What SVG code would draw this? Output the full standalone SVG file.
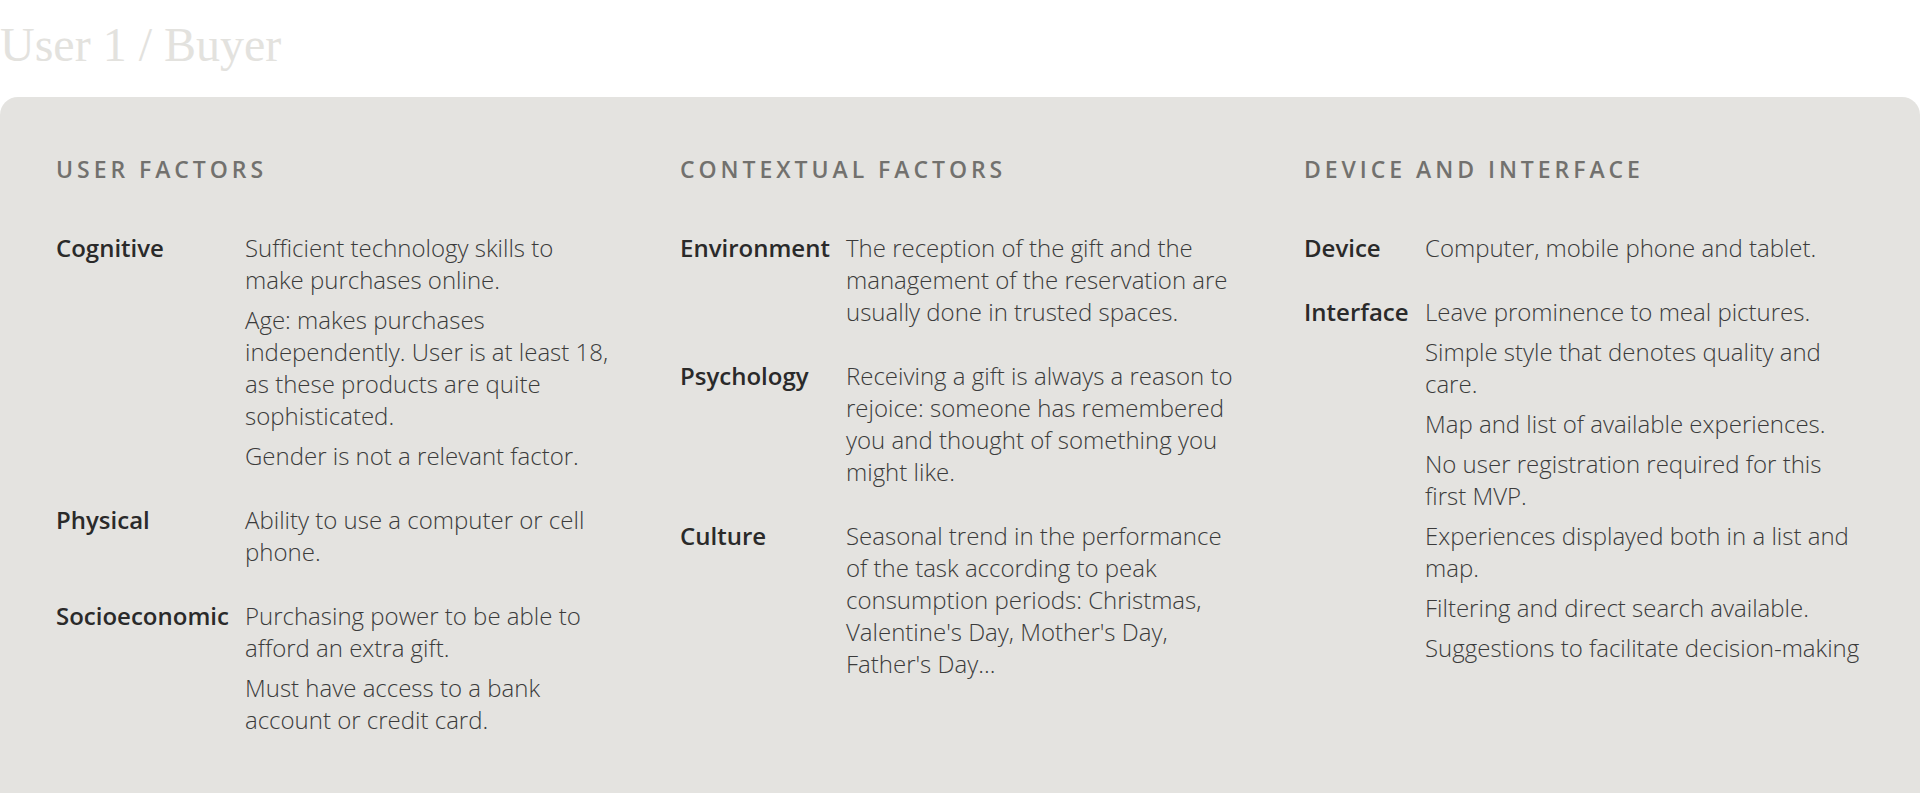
<svg xmlns="http://www.w3.org/2000/svg" width="1920" height="793" viewBox="0 0 1920 793">
<style>
.title{font-family:"Liberation Serif",serif;font-size:48px;fill:#e3e2de}
.hdr{font-family:"Open Sans","Liberation Sans",sans-serif;font-size:23px;font-weight:600;letter-spacing:3.95px;fill:#72716e}
.lbl{font-family:"Open Sans","Liberation Sans",sans-serif;font-size:24px;font-weight:600;fill:#2a2a2a}
.txt{font-family:"Open Sans","Liberation Sans",sans-serif;font-size:24px;font-weight:300;fill:#3b3b3b}
</style>
<rect width="1920" height="793" fill="#ffffff"/>
<text class="title" x="0" y="61">User 1 / Buyer</text>
<rect id="card" x="0" y="97" width="1920" height="720" rx="18" fill="#e4e3e0"/>

<g id="user-factors">
<text class="hdr" x="56" y="178">USER FACTORS</text>
<g id="cognitive">
<text class="lbl" x="56" y="257">Cognitive</text>
<text class="txt" x="245" y="257">Sufficient technology skills to</text>
<text class="txt" x="245" y="289">make purchases online.</text>
<text class="txt" x="245" y="329">Age: makes purchases</text>
<text class="txt" x="245" y="361">independently. User is at least 18,</text>
<text class="txt" x="245" y="393">as these products are quite</text>
<text class="txt" x="245" y="425">sophisticated.</text>
<text class="txt" x="245" y="465">Gender is not a relevant factor.</text>
</g>
<g id="physical">
<text class="lbl" x="56" y="529">Physical</text>
<text class="txt" x="245" y="529">Ability to use a computer or cell</text>
<text class="txt" x="245" y="561">phone.</text>
</g>
<g id="socioeconomic">
<text class="lbl" x="56" y="625">Socioeconomic</text>
<text class="txt" x="245" y="625">Purchasing power to be able to</text>
<text class="txt" x="245" y="657">afford an extra gift.</text>
<text class="txt" x="245" y="697">Must have access to a bank</text>
<text class="txt" x="245" y="729">account or credit card.</text>
</g>
</g>

<g id="contextual-factors">
<text class="hdr" x="680" y="178">CONTEXTUAL FACTORS</text>
<g id="environment">
<text class="lbl" x="680" y="257">Environment</text>
<text class="txt" x="846" y="257">The reception of the gift and the</text>
<text class="txt" x="846" y="289">management of the reservation are</text>
<text class="txt" x="846" y="321">usually done in trusted spaces.</text>
</g>
<g id="psychology">
<text class="lbl" x="680" y="385">Psychology</text>
<text class="txt" x="846" y="385">Receiving a gift is always a reason to</text>
<text class="txt" x="846" y="417">rejoice: someone has remembered</text>
<text class="txt" x="846" y="449">you and thought of something you</text>
<text class="txt" x="846" y="481">might like.</text>
</g>
<g id="culture">
<text class="lbl" x="680" y="545">Culture</text>
<text class="txt" x="846" y="545">Seasonal trend in the performance</text>
<text class="txt" x="846" y="577">of the task according to peak</text>
<text class="txt" x="846" y="609">consumption periods: Christmas,</text>
<text class="txt" x="846" y="641">Valentine's Day, Mother's Day,</text>
<text class="txt" x="846" y="673">Father's Day...</text>
</g>
</g>

<g id="device-and-interface">
<text class="hdr" x="1304" y="178">DEVICE AND INTERFACE</text>
<g id="device">
<text class="lbl" x="1304" y="257">Device</text>
<text class="txt" x="1425" y="257">Computer, mobile phone and tablet.</text>
</g>
<g id="interface">
<text class="lbl" x="1304" y="321">Interface</text>
<text class="txt" x="1425" y="321">Leave prominence to meal pictures.</text>
<text class="txt" x="1425" y="361">Simple style that denotes quality and</text>
<text class="txt" x="1425" y="393">care.</text>
<text class="txt" x="1425" y="433">Map and list of available experiences.</text>
<text class="txt" x="1425" y="473">No user registration required for this</text>
<text class="txt" x="1425" y="505">first MVP.</text>
<text class="txt" x="1425" y="545">Experiences displayed both in a list and</text>
<text class="txt" x="1425" y="577">map.</text>
<text class="txt" x="1425" y="617">Filtering and direct search available.</text>
<text class="txt" x="1425" y="657">Suggestions to facilitate decision-making</text>
</g>
</g>
</svg>
